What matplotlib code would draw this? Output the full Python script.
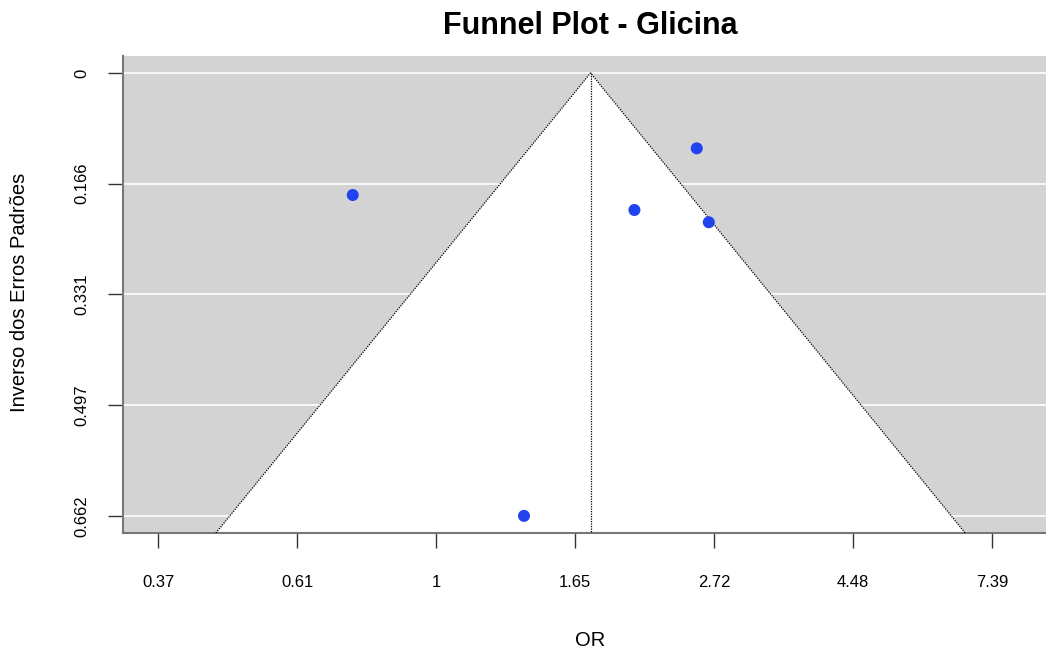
import numpy as np
import matplotlib
matplotlib.use("Agg")
from matplotlib import pyplot as plt

plt.rcParams['font.family'] = ['Liberation Sans', 'DejaVu Sans']

# estudos (OR e erro padrao)
or_values = [0.741, 2.554, 2.041, 2.667, 1.372]
se_values = [0.1824, 0.1126, 0.2048, 0.2231, 0.662]
pooled_or = 1.743

x_ticks = [0.3679, 0.6065, 1.0, 1.6487, 2.7183, 4.4817, 7.3891]
x_labels = ['0.37', '0.61', '1', '1.65', '2.72', '4.48', '7.39']
y_ticks = [0, 0.1655, 0.331, 0.4965, 0.662]
y_labels = ['0', '0.166', '0.331', '0.497', '0.662']

fig = plt.figure(figsize=(10.46, 6.52), dpi=100)
ax = fig.add_axes([123 / 1046, 1 - 533 / 652, 1 - 123 / 1046, (533 - 56) / 652])

ax.set_xscale('log')
ax.set_xlim(0.3243, 8.97)
y_bot, y_top = 0.6876, -0.0254
ax.set_ylim(y_bot, y_top)
ax.set_facecolor('#d3d3d3')

# grade branca
for t in y_ticks:
    ax.axhline(t, color='white', lw=1.2, zorder=1)

# funil
k = 1.96
fx = [pooled_or * np.exp(-k * y_bot), pooled_or, pooled_or * np.exp(k * y_bot)]
fy = [y_bot, 0, y_bot]
ax.fill(fx, fy, color='white', zorder=2, lw=0)
ax.plot(fx, fy, color='black', ls=(0, (1, 1)), lw=0.9, zorder=3)
ax.plot([pooled_or, pooled_or], [0, y_bot], color='black', ls=(0, (1, 1)), lw=0.9, zorder=3)

ax.scatter(or_values, se_values, s=75, color='#2244f0', edgecolors='none', zorder=4)

ax.xaxis.set_minor_locator(matplotlib.ticker.NullLocator())
ax.set_xticks(x_ticks)
ax.set_xticklabels(x_labels)
ax.set_yticks(y_ticks)
ax.set_yticklabels(y_labels, rotation=90, va='center')
ax.tick_params(axis='x', length=11, width=1, pad=19, labelsize=12, color='#333333')
ax.tick_params(axis='y', length=11, width=1, pad=13, labelsize=12, color='#333333')

for s in ['top', 'right']:
    ax.spines[s].set_visible(False)
for s in ['left', 'bottom']:
    ax.spines[s].set_color('#777777')
    ax.spines[s].set_linewidth(1.5)

fig.text(590 / 1046, 1 - 26 / 652, 'Funnel Plot - Glicina', ha='center', va='center',
         fontsize=22, fontweight='bold')
fig.text(590 / 1046, 1 - 641 / 652, 'OR', ha='center', va='center', fontsize=14.5)
fig.text(20 / 1046, 1 - 292 / 652, 'Inverso dos Erros Padrões', ha='center', va='center',
         rotation=90, fontsize=14.5)

fig.savefig('out.png', dpi=100)
